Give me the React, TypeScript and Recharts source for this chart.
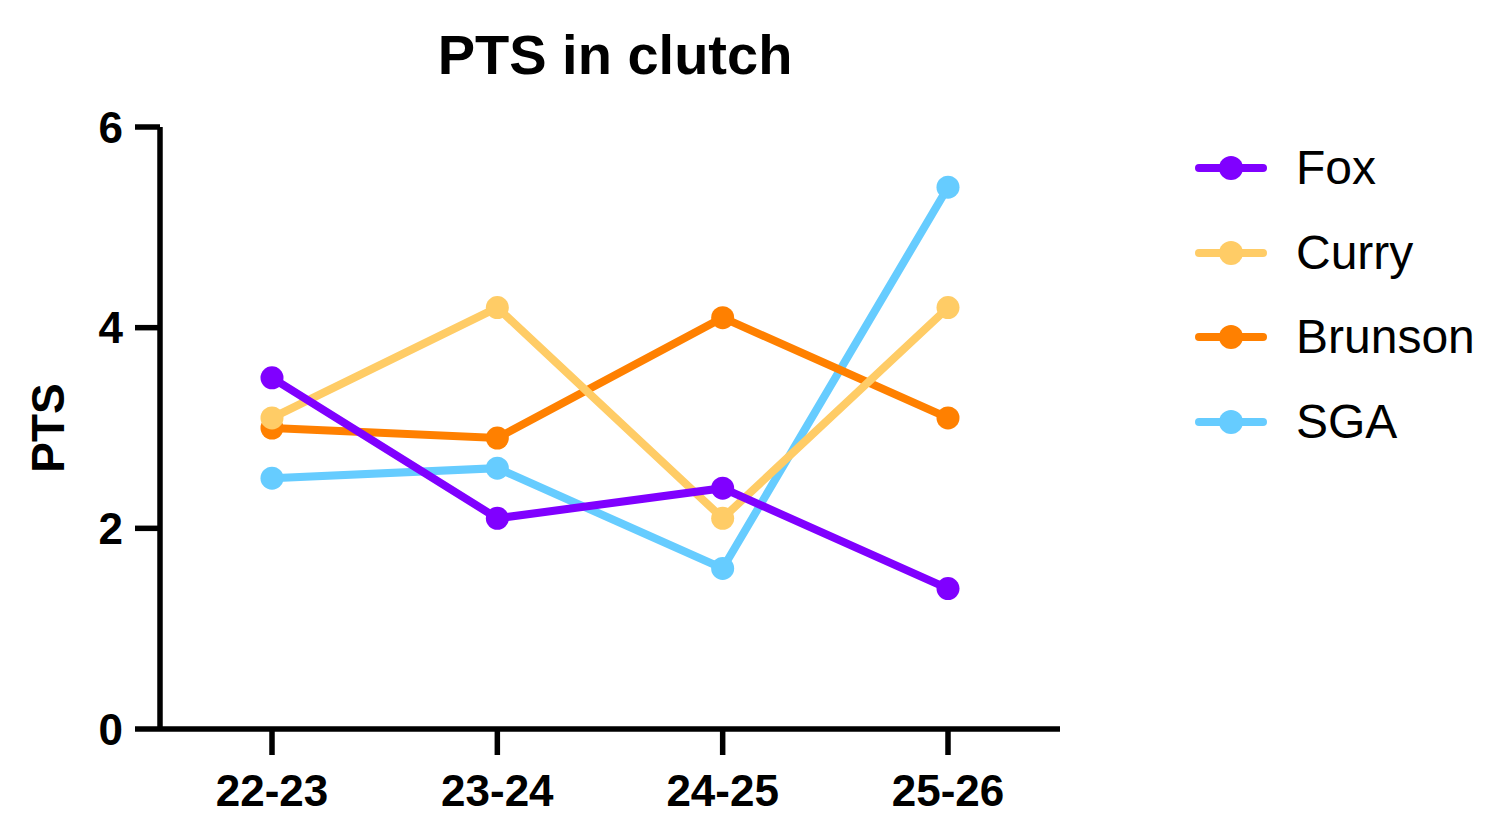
import { LineChart, Line, XAxis, YAxis, Legend } from "recharts";

const seasons = ["22-23", "23-24", "24-25", "25-26"];
const fox = [3.5, 2.1, 2.4, 1.4];
const curry = [3.1, 4.2, 2.1, 4.2];
const brunson = [3.0, 2.9, 4.1, 3.1];
const sga = [2.5, 2.6, 1.6, 5.4];
const yTicks = [0, 2, 4, 6];
const legendOrder = ["Fox", "Curry", "Brunson", "SGA"];

// drawn bottom to top: first legend entry ends up on top
const series = [
  { key: "SGA", values: sga, color: "#66CCFF" },
  { key: "Brunson", values: brunson, color: "#FF8000" },
  { key: "Curry", values: curry, color: "#FFCC66" },
  { key: "Fox", values: fox, color: "#8000FF" },
];

const data = seasons.map((season, i) => {
  const row: Record<string, string | number> = { season };
  series.forEach((s) => { row[s.key] = s.values[i]; });
  return row;
});

const FONT = '"Liberation Sans", Arial, Helvetica, sans-serif';

function YLabel({ viewBox }: any) {
  const cx = viewBox.x + 48;
  const cy = viewBox.y + viewBox.height / 2;
  return (
    <text x={cx} y={cy} transform={`rotate(-90 ${cx} ${cy})`} textAnchor="middle"
      dominantBaseline="central" fontFamily={FONT} fontWeight="bold" fontSize={46} fill="#000">
      PTS
    </text>
  );
}

function LegendList({ payload }: any) {
  const items = [...(payload || [])].sort(
    (a: any, b: any) => legendOrder.indexOf(a.value) - legendOrder.indexOf(b.value)
  );
  return (
    <div style={{ fontFamily: FONT }}>
      {items.map((p: any) => (
        <div key={p.value} style={{ height: 84.5, display: "flex", alignItems: "center" }}>
          <svg width={72} height={26}>
            <line x1={4} y1={13} x2={68} y2={13} stroke={p.color} strokeWidth={8} strokeLinecap="round" />
            <circle cx={36} cy={13} r={12} fill={p.color} />
          </svg>
          <span style={{ marginLeft: 29, fontSize: 48, lineHeight: "48px", color: "#000" }}>{p.value}</span>
        </div>
      ))}
    </div>
  );
}

export default function App() {
  const tickStyle = { fontFamily: FONT, fontWeight: "bold", fontSize: 44, fill: "#000" };
  const axisStroke = { stroke: "#000", strokeWidth: 5.5 };
  return (
    <div style={{ position: "absolute", left: 0, top: 0, width: 1496, height: 821, background: "#fff" }}>
      <div style={{
        position: "absolute", left: 165, top: 27, width: 900, textAlign: "center",
        fontFamily: FONT, fontWeight: "bold", fontSize: 56, lineHeight: "56px", color: "#000",
      }}>
        PTS in clutch
      </div>
      <LineChart width={1496} height={821} data={data} margin={{ top: 127, right: 436, bottom: 0, left: 0 }}>
        <XAxis dataKey="season" height={92} padding={{ left: 112, right: 112 }}
          axisLine={axisStroke} tickLine={axisStroke}
          tickSize={26} tickMargin={20} tick={tickStyle} interval={0} />
        <YAxis width={160} domain={[0, 6]} ticks={yTicks} interval={0}
          axisLine={axisStroke} tickLine={axisStroke}
          tickSize={25} tickMargin={12} tick={tickStyle} label={<YLabel />} />
        <Legend layout="vertical" align="center" verticalAlign="middle" content={<LegendList />}
          wrapperStyle={{ left: 1195, top: 126, width: 300 }} />
        {series.map((s) => (
          <Line key={s.key} dataKey={s.key} name={s.key} stroke={s.color} strokeWidth={8}
            dot={{ r: 11.5, fill: s.color, stroke: s.color, strokeWidth: 0 }} activeDot={false}
            isAnimationActive={false} />
        ))}
      </LineChart>
    </div>
  );
}
